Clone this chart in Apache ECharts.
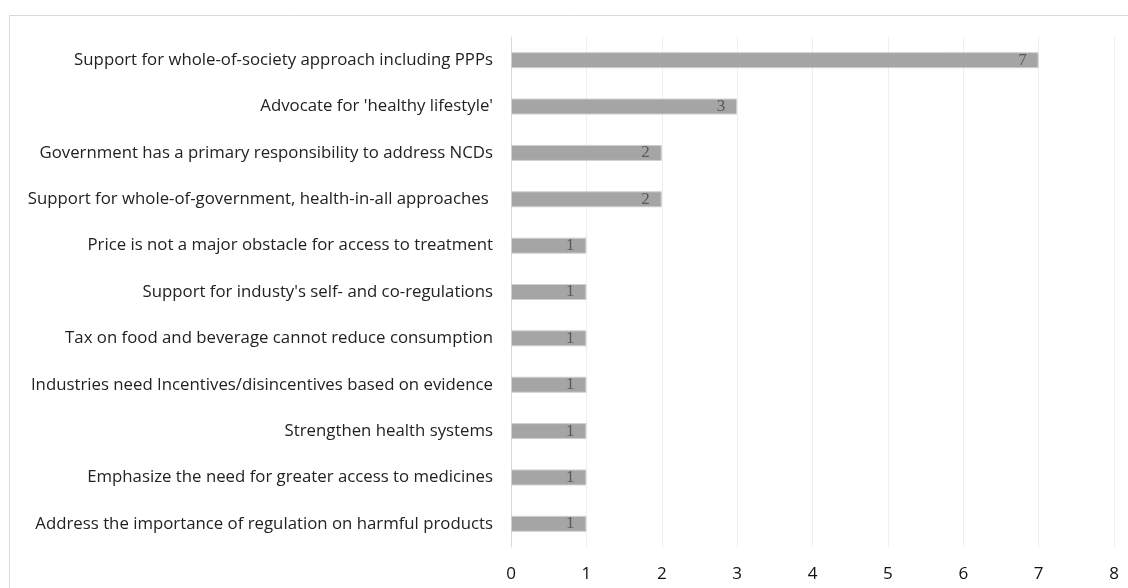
<!DOCTYPE html>
<html>
<head>
<meta charset="utf-8">
<script src="https://cdn.jsdelivr.net/npm/echarts@6/dist/echarts.min.js"></script>
<style>html,body{margin:0;padding:0;background:#fff;}#c{width:1128px;height:588px;}</style>
</head>
<body>
<div id="c"></div>
<script>
const categories = [
  "Support for whole-of-society approach including PPPs",
  "Advocate for 'healthy lifestyle'",
  "Government has a primary responsibility to address NCDs",
  "Support for whole-of-government, health-in-all approaches ",
  "Price is not a major obstacle for access to treatment",
  "Support for industy's self- and co-regulations",
  "Tax on food and beverage cannot reduce consumption",
  "Industries need Incentives/disincentives based on evidence",
  "Strengthen health systems",
  "Emphasize the need for greater access to medicines",
  "Address the importance of regulation on harmful products"
];
const values = [7, 3, 2, 2, 1, 1, 1, 1, 1, 1, 1];
const xTicks = { min: 0, max: 8, interval: 1 };

const chart = echarts.init(document.getElementById('c'), null, { renderer: 'canvas' });
chart.setOption({
  animation: false,
  backgroundColor: '#ffffff',
  graphic: [{
    type: 'rect',
    shape: { x: 9.5, y: 15.5, width: 1300, height: 700 },
    style: { fill: 'none', stroke: '#d9d9d9', lineWidth: 1 },
    silent: true
  }],
  grid: { left: 511, right: 14, top: 37, bottom: 41, containLabel: false },
  xAxis: {
    type: 'value',
    min: xTicks.min, max: xTicks.max, interval: xTicks.interval,
    axisLine: { show: false },
    axisTick: { show: false },
    splitLine: { show: true, lineStyle: { color: '#eeeeee', width: 1 } },
    axisLabel: { color: '#111', fontSize: 17, fontFamily: 'Open Sans', margin: 19 }
  },
  yAxis: {
    type: 'category',
    inverse: true,
    data: categories,
    axisLine: { show: true, lineStyle: { color: '#d9d9d9' } },
    axisTick: { show: false },
    axisLabel: { color: '#222', fontSize: 16.8, fontFamily: 'Open Sans', margin: 18 }
  },
  series: [{
    type: 'bar',
    data: values,
    barWidth: 16,
    itemStyle: { color: '#a5a5a5', borderColor: '#d0d0d0', borderWidth: 1 },
    label: {
      show: true,
      position: 'insideRight',
      distance: 12,
      color: '#595959',
      fontSize: 17,
      fontFamily: 'Liberation Serif'
    }
  }]
});
</script>
</body>
</html>
